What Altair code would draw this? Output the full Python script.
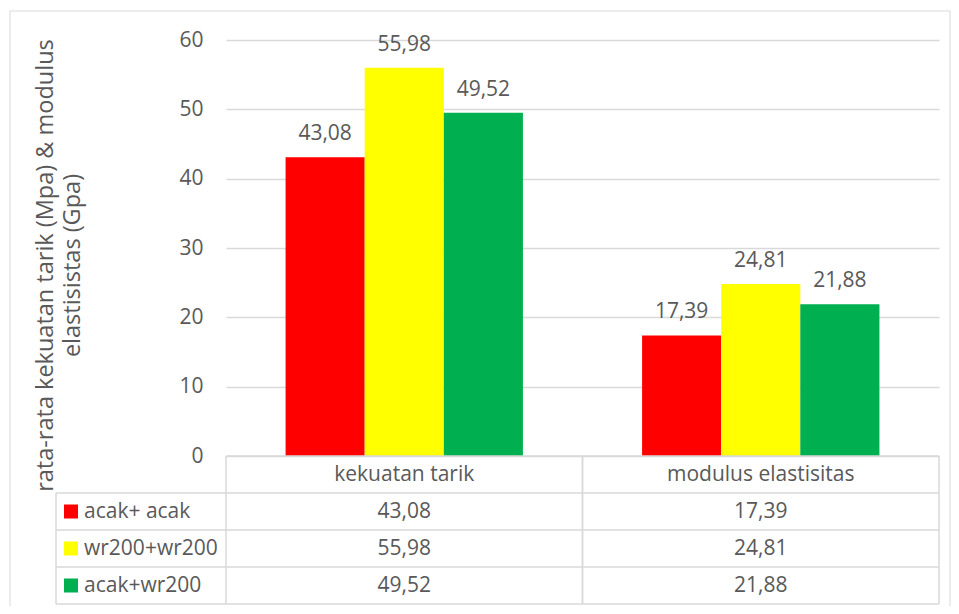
import altair as alt
import pandas as pd

categories = ["kekuatan tarik", "modulus elastisitas"]
series = ["acak+ acak", "wr200+wr200", "acak+wr200"]
acak_acak = [43.08, 17.39]
wr200_wr200 = [55.98, 24.81]
acak_wr200 = [49.52, 21.88]
colors = ["#FF0000", "#FFFF00", "#00B050"]
y_ticks = [0, 10, 20, 30, 40, 50, 60]
y_title = ["rata-rata kekuatan tarik (Mpa) & modulus", "elastisistas (Gpa)"]

FONT = "Open Sans"
FS = 21
TXT = "#595959"
GRID = "#d9d9d9"

W = 713
PH = 416
RH = 37
TH = PH + 4 * RH
LEG_W = 170

values = [acak_acak, wr200_wr200, acak_wr200]
recs = []
for s, vals in zip(series, values):
    for c, v in zip(categories, vals):
        recs.append({"series": s, "cat": c, "value": v,
                     "label": f"{v:.2f}".replace(".", ",")})
df = pd.DataFrame(recs)

row_order = ["header"] + series
header = pd.DataFrame({"cat": categories, "row": "header", "label": categories})
cells = df.assign(row=df["series"])[["cat", "row", "label"]]
table_df = pd.concat([header, cells], ignore_index=True)
leg_df = pd.DataFrame({"series": series, "row": series})
rows_df = pd.DataFrame({"row": row_order})
cat_df = pd.DataFrame({"cat": categories})
one = pd.DataFrame({"a": [0]})

xs = alt.Scale(domain=categories, paddingInner=0, paddingOuter=0)
xo = alt.Scale(domain=series, paddingInner=0, paddingOuter=0.753)
ys = alt.Scale(domain=[0, 60], range=[PH, 0], nice=False)
rs = alt.Scale(domain=row_order, range=[PH, TH], paddingInner=0, paddingOuter=0)
cs = alt.Scale(domain=series, range=colors)

X = alt.X("cat:N", scale=xs, axis=None)
XO = alt.XOffset("series:N", scale=xo)
R = alt.Y("row:N", scale=rs, axis=None)

border = alt.Chart(one).mark_rect(fillOpacity=0, stroke=GRID, strokeWidth=1).encode(
    x=alt.value(-216), x2=alt.value(724), y=alt.value(-29), y2=alt.value(TH + 40)
)

bars = alt.Chart(df).mark_bar().encode(
    x=X, xOffset=XO,
    y=alt.Y("value:Q", scale=ys,
            axis=alt.Axis(values=y_ticks, title=y_title, titleX=-181, titleY=225,
                          titleAngle=270, titleAlign="center", titleBaseline="middle",
                          titleLineHeight=27)),
    color=alt.Color("series:N", scale=cs, legend=None),
)

labels = alt.Chart(df).mark_text(font=FONT, fontSize=FS, color=TXT,
                                 baseline="alphabetic", dy=-17).encode(
    x=X, xOffset=XO,
    y=alt.Y("value:Q", scale=ys, axis=None),
    text="label:N",
)

hlines = alt.Chart(rows_df).mark_rule(color=GRID, strokeWidth=1.5).encode(
    y=alt.Y("row:N", scale=rs, axis=None, bandPosition=1),
    x=alt.value(-LEG_W), x2=alt.value(W),
)
top_line = alt.Chart(one).mark_rule(color=GRID, strokeWidth=1.5).encode(
    y=alt.value(PH), x=alt.value(0), x2=alt.value(W)
)
vlines0 = alt.Chart(cat_df).mark_rule(color=GRID, strokeWidth=1.5).encode(
    x=alt.X("cat:N", scale=xs, axis=None, bandPosition=0),
    y=alt.value(PH), y2=alt.value(TH),
)
vlines1 = alt.Chart(cat_df).mark_rule(color=GRID, strokeWidth=1.5).encode(
    x=alt.X("cat:N", scale=xs, axis=None, bandPosition=1),
    y=alt.value(PH), y2=alt.value(TH),
)
left_line = alt.Chart(one).mark_rule(color=GRID, strokeWidth=1.5).encode(
    x=alt.value(-LEG_W), y=alt.value(PH + RH), y2=alt.value(TH)
)

table_text = alt.Chart(table_df).mark_text(font=FONT, fontSize=FS, color=TXT,
                                           baseline="middle").encode(
    x=X, y=R, text="label:N"
)

leg_sq = alt.Chart(leg_df).mark_point(shape="square", filled=True, size=196,
                                      opacity=1).encode(
    x=alt.value(-155), y=R,
    color=alt.Color("series:N", scale=cs, legend=None),
)
leg_txt = alt.Chart(leg_df).mark_text(font=FONT, fontSize=FS, color=TXT,
                                      align="left", baseline="middle").encode(
    x=alt.value(-142), y=R, text="series:N"
)

chart = alt.layer(
    border, bars, labels, top_line, hlines, vlines0, vlines1, left_line,
    table_text, leg_sq, leg_txt
).resolve_scale(y="independent").properties(
    width=W, height=TH,
    autosize=alt.AutoSizeParams(type="none"),
    padding={"left": 218, "top": 32, "right": 12, "bottom": 2},
    background="white",
).configure_view(stroke=None).configure_axis(
    domain=False, ticks=False, tickSize=0, labelPadding=23,
    grid=True, gridColor=GRID, gridWidth=1.5,
    labelFont=FONT, labelFontSize=FS, labelColor=TXT,
    titleFont=FONT, titleFontSize=23.5, titleColor=TXT, titleFontWeight="normal",
)

chart.save("out.html", embed_options={"renderer": "svg", "actions": False})
